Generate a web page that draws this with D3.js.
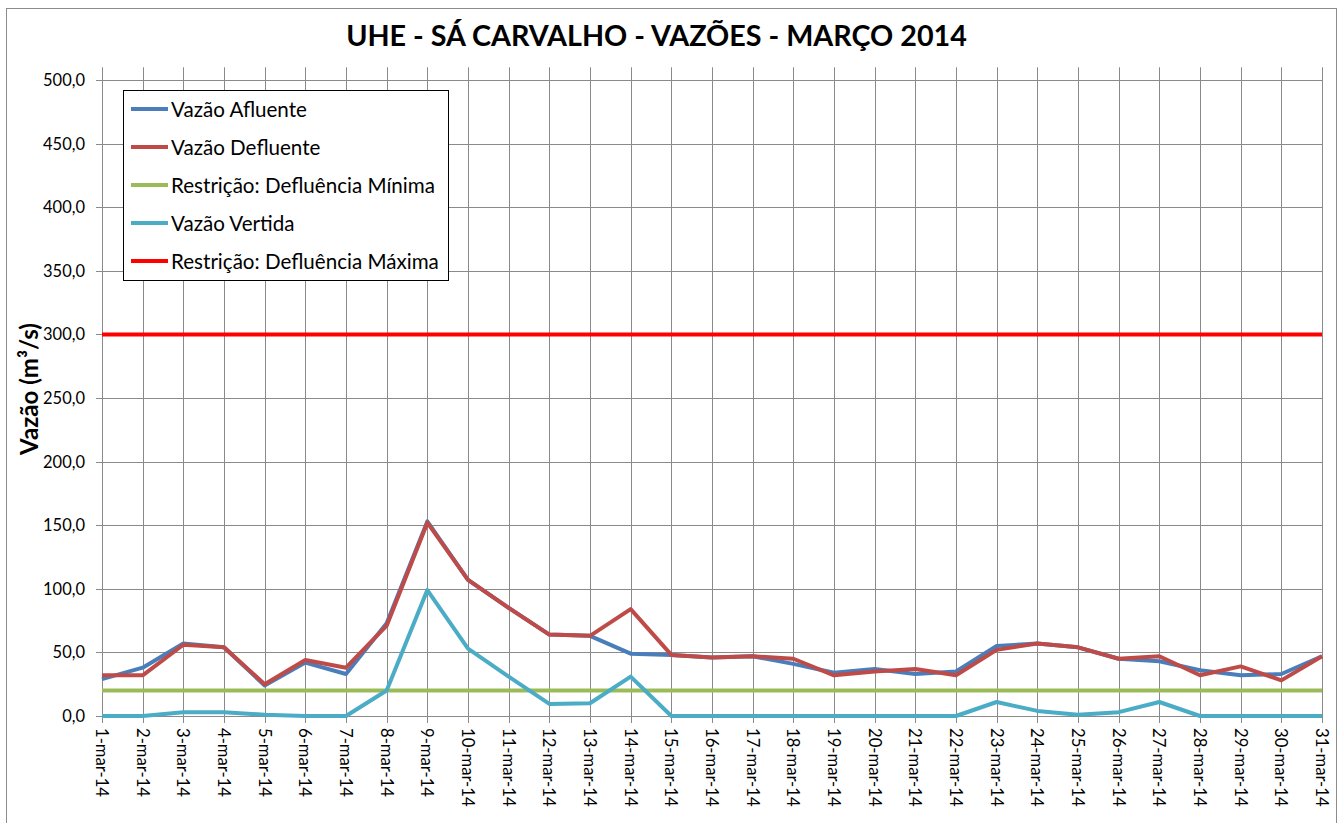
<!DOCTYPE html>
<html>
<head>
<meta charset="utf-8">
<script src="https://cdn.jsdelivr.net/npm/d3@7"></script>
<style>
  html, body { margin: 0; padding: 0; background: #fff; }
  svg { display: block; }
  text { font-family: Lato, "Open Sans", "Liberation Sans", sans-serif; fill: #000; }
</style>
</head>
<body>
<svg id="chart" width="1341" height="823"></svg>
<script>
// ---- data ----
const days = d3.range(1, 32).map(d => d + "-mar-14");
const afluente  = [29, 38, 57, 54, 24, 42, 33, 73, 153, 107, 85, 64, 63, 49, 48, 46, 47, 41, 34, 37, 33, 35, 55, 57, 54, 45, 43, 36, 32, 33, 47];
const defluente = [32, 32, 56, 54, 25, 44, 38, 71, 152, 107, 85, 64, 63, 84, 48, 46, 47, 45, 32, 35, 37, 32, 52, 57, 54, 45, 47, 32, 39, 28, 47];
const minima    = days.map(() => 20);
const vertida   = [0, 0, 3, 3, 1, 0, 0, 20, 99, 53, 31, 9.5, 10, 31, 0, 0, 0, 0, 0, 0, 0, 0, 11, 4, 1, 3, 11, 0, 0, 0, 0];
const maxima    = days.map(() => 300);
const yTicks = [0, 50, 100, 150, 200, 250, 300, 350, 400, 450, 500];
const seriesNames = ["Vazão Afluente", "Vazão Defluente", "Restrição: Defluência Mínima", "Vazão Vertida", "Restrição: Defluência Máxima"];
const seriesColors = ["#4A7EBB", "#BE4B48", "#9BBB59", "#4BACC6", "#FF0000"];
const title = "UHE - SÁ CARVALHO - VAZÕES - MARÇO 2014";
const yTitle = "Vazão (m³/s)";

const seriesData = [afluente, defluente, minima, vertida, maxima];

// ---- layout ----
const svg = d3.select("#chart");
const L = 102, R = 1322, T = 80, B = 716;
const x = d3.scalePoint().domain(days).range([L, R]);
const y = d3.scaleLinear().domain([0, 500]).range([B, T]);
const gridTop = y(510);
const grid = "#8a8a8a";

// fit a text element to a target width
function fit(sel, target, base) {
  sel.style("font-size", base + "px");
  const w = sel.node().getComputedTextLength();
  sel.style("font-size", (base * target / w) + "px");
}

// outer frame
svg.append("rect").attr("x", 6.5).attr("y", 8.5).attr("width", 1330).attr("height", 830)
  .attr("fill", "none").attr("stroke", "#8c8c8c").attr("stroke-width", 1);

// horizontal gridlines
svg.append("g").selectAll("line").data(yTicks).join("line")
  .attr("x1", L - 6).attr("x2", R)
  .attr("y1", d => Math.round(y(d)) + 0.5).attr("y2", d => Math.round(y(d)) + 0.5)
  .attr("stroke", grid).attr("stroke-width", 1);

// vertical gridlines (with tick extension below)
svg.append("g").selectAll("line").data(days).join("line")
  .attr("x1", d => Math.round(x(d)) + 0.5).attr("x2", d => Math.round(x(d)) + 0.5)
  .attr("y1", gridTop).attr("y2", B + 7)
  .attr("stroke", grid).attr("stroke-width", 1);

// y tick labels
const yl = svg.append("g").selectAll("text").data(yTicks).join("text")
  .attr("x", 85).attr("y", d => y(d))
  .attr("text-anchor", "end").attr("dominant-baseline", "central")
  .text(d => d3.format(".1f")(d).replace(".", ","));
yl.style("font-size", "17px");
{
  const n = yl.filter(d => d === 500);
  fit(n, 42, 17);
  yl.style("font-size", n.style("font-size"));
}

// x tick labels (rotated)
const xl = svg.append("g").selectAll("text").data(days).join("text")
  .attr("transform", d => `translate(${x(d)},${B + 12}) rotate(90)`)
  .attr("text-anchor", "start").attr("dominant-baseline", "central")
  .text(d => d);
{
  const n = xl.filter(d => d === "1-mar-14");
  fit(n, 69, 16);
  xl.style("font-size", n.style("font-size"));
}

// series lines
const line = d3.line().x((d, i) => x(days[i])).y(d => y(d));
svg.append("g").selectAll("path").data(seriesData).join("path")
  .attr("d", d => line(d))
  .attr("fill", "none")
  .attr("stroke", (d, i) => seriesColors[i])
  .attr("stroke-width", 4)
  .attr("stroke-linejoin", "round")
  .attr("stroke-linecap", "butt");

// title
const tt = svg.append("text").attr("x", 656.5).attr("y", 46)
  .attr("text-anchor", "middle").attr("font-weight", "bold").text(title);
fit(tt, 621, 28);

// y axis title
const yt = svg.append("text").attr("transform", "translate(28,389) rotate(-90)")
  .attr("text-anchor", "middle").attr("dominant-baseline", "central")
  .attr("font-weight", "bold").text(yTitle);
fit(yt, 132, 19);

// legend
const lg = svg.append("g");
lg.append("rect").attr("x", 123.5).attr("y", 90.5).attr("width", 325).attr("height", 190)
  .attr("fill", "#fff").attr("stroke", "#000").attr("stroke-width", 1);
const rowY = d3.scalePoint().domain(seriesNames).range([109, 261]);
const items = lg.selectAll("g").data(seriesNames).join("g")
  .attr("transform", d => `translate(0,${rowY(d)})`);
items.append("line").attr("x1", 131).attr("x2", 168).attr("y1", 0).attr("y2", 0)
  .attr("stroke", (d, i) => seriesColors[i]).attr("stroke-width", 4);
const lt = items.append("text").attr("x", 171).attr("y", 0)
  .attr("dominant-baseline", "central").text(d => d);
{
  const n = lt.filter(d => d === "Restrição: Defluência Máxima");
  fit(n, 268, 17);
  lt.style("font-size", n.style("font-size"));
}
</script>
</body>
</html>
